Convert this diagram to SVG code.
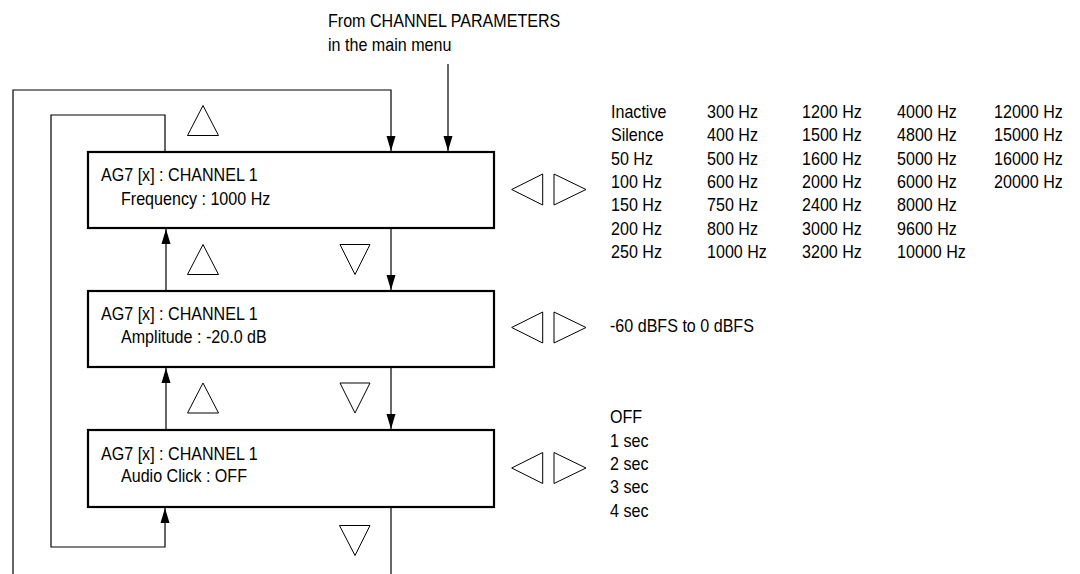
<svg xmlns="http://www.w3.org/2000/svg" width="1080" height="574" viewBox="0 0 1080 574">
<style>
text{font-family:"Liberation Sans",Arial,sans-serif;font-size:17.5px;fill:#000;transform-box:fill-box;transform-origin:0 0;transform:scaleX(0.92)}
.box{fill:#fff;stroke:#000;stroke-width:2.2}
.ln{fill:none;stroke:#000;stroke-width:1.2}
.tri{fill:#fff;stroke:#000;stroke-width:1}
</style>
<defs>
<marker id="ah" markerUnits="userSpaceOnUse" markerWidth="16" markerHeight="10" viewBox="0 -5 16 10" refX="15" refY="0" orient="auto">
<path d="M0,-4.5 L15,0 L0,4.5 z" fill="#000"/>
</marker>
</defs>
<rect width="1080" height="574" fill="#fff"/>
<g id="header">
<text x="328" y="27.5">From CHANNEL PARAMETERS</text>
<text x="328" y="51.5">in the main menu</text>
</g>
<g id="connectors">
<path class="ln" d="M448,64 V151" marker-end="url(#ah)"/>
<path class="ln" d="M13,574 V90 H391 V151" marker-end="url(#ah)"/>
<path class="ln" d="M165,152 V115 H51 V547 H165 V508" marker-end="url(#ah)"/>
<path class="ln" d="M166,291 V229" marker-end="url(#ah)"/>
<path class="ln" d="M391,228 V290" marker-end="url(#ah)"/>
<path class="ln" d="M166,430 V368" marker-end="url(#ah)"/>
<path class="ln" d="M391,367 V429" marker-end="url(#ah)"/>
<path class="ln" d="M391,507 V574"/>
</g>
<g id="nav-triangles">
<polygon class="tri" points="187.5,135.5 218.5,135.5 203,105.5"/>
<polygon class="tri" points="187.5,274.5 218.5,274.5 203,244.5"/>
<polygon class="tri" points="340,244.5 370,244.5 355,274.5"/>
<polygon class="tri" points="187.5,413 218.5,413 203,383"/>
<polygon class="tri" points="340,383 370,383 355,413"/>
<polygon class="tri" points="339.5,525.5 370,525.5 355,555.5"/>
<polygon class="tri" points="511.7,189.5 542.7,174 542.7,205"/>
<polygon class="tri" points="554,174 554,205 586,189.5"/>
<polygon class="tri" points="511.7,327.5 542.7,312 542.7,343"/>
<polygon class="tri" points="554,312 554,343 586,327.5"/>
<polygon class="tri" points="511.7,468 542.7,452.5 542.7,483.5"/>
<polygon class="tri" points="554,452.5 554,483.5 586,468"/>
</g>
<g id="node-frequency">
<rect class="box" x="88" y="152" width="406" height="76"/>
<text x="101" y="181">AG7 [x] : CHANNEL 1</text>
<text x="121" y="205">Frequency : 1000 Hz</text>
</g>
<g id="node-amplitude">
<rect class="box" x="88" y="291" width="406" height="76"/>
<text x="101" y="320.5">AG7 [x] : CHANNEL 1</text>
<text x="121" y="343.5">Amplitude : -20.0 dB</text>
</g>
<g id="node-audioclick">
<rect class="box" x="88" y="430" width="406" height="77"/>
<text x="101" y="460">AG7 [x] : CHANNEL 1</text>
<text x="121" y="482.5">Audio Click : OFF</text>
</g>
<g id="frequency-values">
<text x="611" y="118">Inactive</text>
<text x="611" y="141.3">Silence</text>
<text x="611" y="164.6">50 Hz</text>
<text x="611" y="188">100 Hz</text>
<text x="611" y="211.3">150 Hz</text>
<text x="611" y="234.6">200 Hz</text>
<text x="611" y="258">250 Hz</text>
<text x="707" y="118">300 Hz</text>
<text x="707" y="141.3">400 Hz</text>
<text x="707" y="164.6">500 Hz</text>
<text x="707" y="188">600 Hz</text>
<text x="707" y="211.3">750 Hz</text>
<text x="707" y="234.6">800 Hz</text>
<text x="707" y="258">1000 Hz</text>
<text x="802" y="118">1200 Hz</text>
<text x="802" y="141.3">1500 Hz</text>
<text x="802" y="164.6">1600 Hz</text>
<text x="802" y="188">2000 Hz</text>
<text x="802" y="211.3">2400 Hz</text>
<text x="802" y="234.6">3000 Hz</text>
<text x="802" y="258">3200 Hz</text>
<text x="897" y="118">4000 Hz</text>
<text x="897" y="141.3">4800 Hz</text>
<text x="897" y="164.6">5000 Hz</text>
<text x="897" y="188">6000 Hz</text>
<text x="897" y="211.3">8000 Hz</text>
<text x="897" y="234.6">9600 Hz</text>
<text x="897" y="258">10000 Hz</text>
<text x="994" y="118">12000 Hz</text>
<text x="994" y="141.3">15000 Hz</text>
<text x="994" y="164.6">16000 Hz</text>
<text x="994" y="188">20000 Hz</text>
</g>
<g id="amplitude-values">
<text x="610" y="331.7">-60 dBFS to 0 dBFS</text>
</g>
<g id="audioclick-values">
<text x="610" y="422.7">OFF</text>
<text x="610" y="446.7">1 sec</text>
<text x="610" y="470">2 sec</text>
<text x="610" y="493.3">3 sec</text>
<text x="610" y="516.7">4 sec</text>
</g>
</svg>
